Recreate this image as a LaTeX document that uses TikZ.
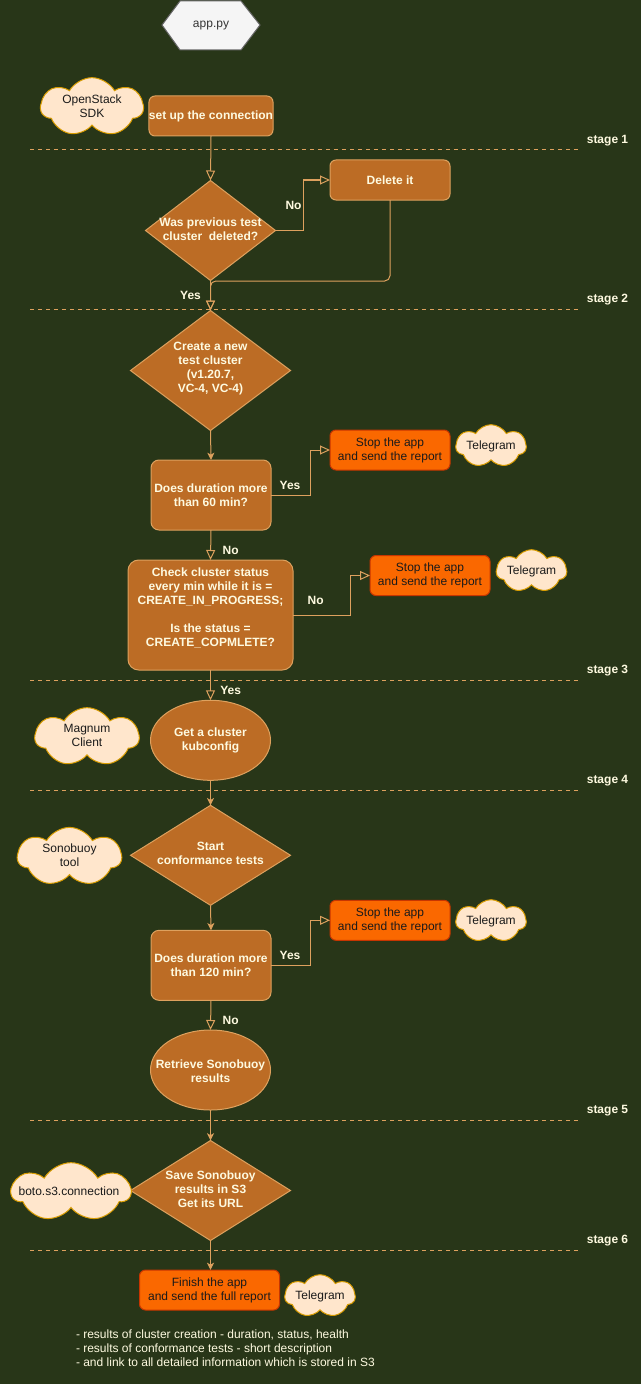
\documentclass[tikz,border=0pt]{standalone}
\usepackage{fontspec}
\setmainfont{Liberation Sans}
\usetikzlibrary{shapes.geometric,shapes.symbols,arrows.meta}

\definecolor{bg}{HTML}{283618}
\definecolor{rust}{HTML}{BC6C25}
\definecolor{sand}{HTML}{DDA15E}
\definecolor{cream}{HTML}{FEFAE0}
\definecolor{alert}{HTML}{FA6800}
\definecolor{alertline}{HTML}{C73500}
\definecolor{puff}{HTML}{FFE6CC}
\definecolor{puffline}{HTML}{D79B00}
\definecolor{hexfill}{HTML}{F5F5F5}
\definecolor{hexline}{HTML}{666666}
\definecolor{hextext}{HTML}{333333}
\definecolor{darktext}{HTML}{1A1A1A}

\tikzset{
  every node/.style={inner sep=0pt, outer sep=0pt, font=\fontsize{9}{10.5}\selectfont},
  boldtext/.style={font=\fontsize{9}{10.5}\selectfont\bfseries, text=cream, align=center},
  stepbox/.style={rectangle, rounded corners=#1, draw=sand, fill=rust, line width=0.75pt,
    boldtext},
  stepbox/.default=4.5pt,
  decision/.style={diamond, draw=sand, fill=rust, line width=0.75pt},
  oval/.style={ellipse, draw=sand, fill=rust, line width=0.75pt,
    minimum width=90pt, minimum height=60pt},
  alertbox/.style={rectangle, rounded corners=4.5pt, draw=alertline, fill=alert,
    line width=0.75pt, text=darktext, align=center, minimum width=90pt, minimum height=30pt},
  tool/.style={cloud, cloud puffs=7, cloud puff arc=120, cloud ignores aspect,
    draw=puffline, fill=puff, line width=0.75pt},
  tooltext/.style={text=darktext, align=center},
  flow/.style={draw=sand, line width=0.75pt},
  opentip/.style={flow, -{Triangle[open, length=7.5pt, width=6.75pt]}},
  filltip/.style={flow, -{Stealth[length=5.5pt, width=5.25pt, inset=1.5pt]}},
  answer/.style={font=\fontsize{9}{10.5}\selectfont\bfseries, text=cream},
  stageline/.style={draw=sand, line width=0.75pt, dash pattern=on 3pt off 3pt},
  stagelabel/.style={font=\fontsize{9}{10.5}\selectfont\bfseries, text=cream},
}

\begin{document}
\begin{tikzpicture}[x=0.75pt, y=-0.75pt]
  \fill[bg] (0,0) rectangle (641,1384);
  \useasboundingbox (0,0) rectangle (641,1384);

  % entry point
  \filldraw[fill=hexfill, draw=hexline, line width=0.75pt]
    (162,25) -- (180,1) -- (241,1) -- (260,25) -- (241,50) -- (180,50) -- cycle;
  \node[text=hextext] (app) at (211,26) {app.py};

  % stage separators
  \foreach \yy/\nm in {150/1, 309/2, 680/3, 790/4, 1120/5, 1250/6} {
    \draw[stageline] (30,\yy) -- (580,\yy);
    \node[stagelabel] (stage\nm) at (607.5,\yy-9.5) {stage \nm};
  }

  % stage 1
  \node[tool, minimum width=77pt, minimum height=44pt] (sdk) at (92,107) {};
  \node[tooltext] (sdkt) at (92,106) {OpenStack\\SDK};
  \node[stepbox, minimum width=90pt, minimum height=30pt] (setup) at (211,116) {set up the connection};

  % stage 2
  \node[decision, minimum width=97.5pt, minimum height=75pt] (d1) at (210.5,230.5) {};
  \node[boldtext] (d1t) at (210.5,229) {Was previous test\\cluster\ \ deleted?};
  \node[stepbox, minimum width=90pt, minimum height=30pt] (del) at (390,180) {Delete it};

  \node[decision, minimum width=120pt, minimum height=90pt] (d2) at (210.5,370.5) {};
  \node[boldtext] (d2t) at (210.5,368.7) {Create a new\\test cluster\\(v1.20.7,\\VC-4, VC-4)};

  \node[stepbox=6pt, minimum width=90pt, minimum height=52.5pt] (q60) at (211,495) {Does duration more\\than 60 min?};
  \node[alertbox] (stop1) at (390,450) {Stop the app\\and send the report};
  \node[tool, minimum width=53pt, minimum height=32pt] (tg1) at (491,446) {};
  \node[tooltext] (tg1t) at (491,446) {Telegram};

  \node[stepbox=8pt, minimum width=123.75pt, minimum height=82.5pt] (check) at (210.5,615) {};
  \node[boldtext] (checkt) at (210.5,607.7)
    {Check cluster status\\every min while it is =\\CREATE\_IN\_PROGRESS;\\[10.5pt]Is the status =\\CREATE\_COPMLETE?};
  \node[alertbox] (stop2) at (430,575.5) {Stop the app\\and send the report};
  \node[tool, minimum width=53pt, minimum height=32pt] (tg2) at (531.5,571) {};
  \node[tooltext] (tg2t) at (531.5,571) {Telegram};

  % stage 3
  \node[oval] (e1) at (210.5,740.3) {};
  \node[boldtext] (e1t) at (210.5,740.7) {Get a cluster\\kubconfig};
  \node[tool, minimum width=78pt, minimum height=44pt] (magnum) at (87,737) {};
  \node[tooltext] (magnumt) at (87,735.7) {Magnum\\Client};

  % stage 4
  \node[decision, minimum width=120pt, minimum height=75pt] (d3) at (210.5,855.3) {};
  \node[boldtext] (d3t) at (210.5,853.7) {Start\\conformance tests};
  \node[tool, minimum width=78pt, minimum height=44pt] (sono) at (69.5,856.7) {};
  \node[tooltext] (sonot) at (69.5,855.7) {Sonobuoy\\tool};

  \node[stepbox=6pt, minimum width=90pt, minimum height=52.5pt] (q120) at (211,965.3) {Does duration more\\than 120 min?};
  \node[alertbox] (stop3) at (390,920.3) {Stop the app\\and send the report};
  \node[tool, minimum width=53pt, minimum height=32pt] (tg3) at (491,921) {};
  \node[tooltext] (tg3t) at (491,921) {Telegram};

  \node[oval] (e2) at (210.5,1070) {};
  \node[boldtext] (e2t) at (210.5,1070.7) {Retrieve Sonobuoy\\results};

  % stage 5
  \node[decision, minimum width=120pt, minimum height=75pt] (d4) at (210.5,1190.5) {};
  \node[boldtext] (d4t) at (210.5,1188.7) {Save Sonobuoy\\results in S3\\Get its URL};
  \node[tool, minimum width=89pt, minimum height=44pt] (boto) at (71,1192) {};
  \node[tooltext] (botot) at (69,1190.7) {boto.s3.connection};

  % stage 6
  \node[alertbox, minimum width=105pt] (finish) at (209.5,1290) {Finish the app\\and send the full report};
  \node[tool, minimum width=53pt, minimum height=32pt] (tg4) at (320,1296) {};
  \node[tooltext] (tg4t) at (320,1296) {Telegram};
  \node[text=cream, align=left, anchor=west] (notes) at (76,1347.7)
    {- results of cluster creation - duration, status, health\\
     - results of conformance tests - short description\\
     - and link to all detailed information which is stored in S3};

  % connectors
  \draw[opentip] (setup.south) -- (d1.north);
  \draw[opentip] (d1.east) -- ++(28,0) |- (del.west);
  \draw[opentip, rounded corners=4pt] (del.south) -- ++(0,81) -| (d2.north);
  \draw[opentip] (d1.south) -- (d2.north);
  \draw[filltip] (d2.south) -- (q60.north);
  \draw[opentip] (q60.east) -- ++(39,0) |- (stop1.west);
  \draw[opentip] (q60.south) -- (check.north);
  \draw[opentip] (check.east) -- ++(57.5,0) |- (stop2.west);
  \draw[opentip] (check.south) -- (e1.north);
  \draw[filltip] (e1.south) -- (d3.north);
  \draw[filltip] (d3.south) -- (q120.north);
  \draw[opentip] (q120.east) -- ++(39,0) |- (stop3.west);
  \draw[opentip] (q120.south) -- (e2.north);
  \draw[filltip] (e2.south) -- (d4.north);
  \draw[filltip] (d4.south) -- (d4.south |- finish.north);

  % branch answers
  \node[answer] (no1) at (293.5,205) {No};
  \node[answer] (yes1) at (190.5,295) {Yes};
  \node[answer] (yes2) at (290,485) {Yes};
  \node[answer] (no2) at (230.6,550) {No};
  \node[answer] (no3) at (315.6,600) {No};
  \node[answer] (yes3) at (230.6,690) {Yes};
  \node[answer] (yes4) at (290,955) {Yes};
  \node[answer] (no4) at (230.6,1020) {No};
\end{tikzpicture}
\end{document}
